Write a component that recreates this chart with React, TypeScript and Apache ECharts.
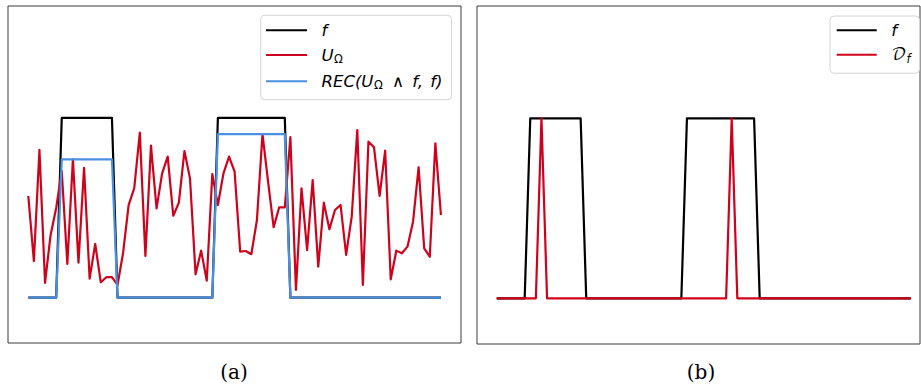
import React, { useEffect, useRef } from 'react';
import * as echarts from 'echarts';

// Panel (a): noisy signal U_Omega, indicator f, reconstruction REC(U_Omega ∧ f, f)
const U_OMEGA = [
  0.566, 0.204, 0.822, 0.083, 0.349, 0.499, 0.705, 0.188, 0.77, 0.195,
  0.723, 0.106, 0.299, 0.086, 0.114, 0.114, 0.071, 0.249, 0.516, 0.609,
  0.918, 0.232, 0.846, 0.497, 0.692, 0.785, 0.456, 0.529, 0.816, 0.664,
  0.13, 0.262, 0.095, 0.688, 0.516, 0.692, 0.785, 0.701, 0.256, 0.26,
  0.242, 0.432, 0.91, 0.646, 0.392, 0.503, 0.503, 0.893, 0.043, 0.609,
  0.265, 0.655, 0.173, 0.529, 0.381, 0.488, 0.516, 0.238, 0.451, 0.933,
  0.071, 0.868, 0.837, 0.566, 0.818, 0.102, 0.262, 0.247, 0.284, 0.423,
  0.726, 0.275, 0.228, 0.859, 0.46,
];

const F_VALUES = [
  0, 0, 0, 0, 0, 0, 1, 1, 1, 1,
  1, 1, 1, 1, 1, 1, 0, 0, 0, 0,
  0, 0, 0, 0, 0, 0, 0, 0, 0, 0,
  0, 0, 0, 0, 1, 1, 1, 1, 1, 1,
  1, 1, 1, 1, 1, 1, 1, 0, 0, 0,
  0, 0, 0, 0, 0, 0, 0, 0, 0, 0,
  0, 0, 0, 0, 0, 0, 0, 0, 0, 0,
  0, 0, 0, 0, 0,
];

const REC_VALUES = [
  0, 0, 0, 0, 0, 0, 0.77, 0.77, 0.77, 0.77,
  0.77, 0.77, 0.77, 0.77, 0.77, 0.77, 0, 0, 0, 0,
  0, 0, 0, 0, 0, 0, 0, 0, 0, 0,
  0, 0, 0, 0, 0.91, 0.91, 0.91, 0.91, 0.91, 0.91,
  0.91, 0.91, 0.91, 0.91, 0.91, 0.91, 0.91, 0, 0, 0,
  0, 0, 0, 0, 0, 0, 0, 0, 0, 0,
  0, 0, 0, 0, 0, 0, 0, 0, 0, 0,
  0, 0, 0, 0, 0,
];

// Panel (b): D_f
const D_F_VALUES = [
  0, 0, 0, 0, 0, 0, 0, 0, 1, 0,
  0, 0, 0, 0, 0, 0, 0, 0, 0, 0,
  0, 0, 0, 0, 0, 0, 0, 0, 0, 0,
  0, 0, 0, 0, 0, 0, 0, 0, 0, 0,
  0, 0, 1, 0, 0, 0, 0, 0, 0, 0,
  0, 0, 0, 0, 0, 0, 0, 0, 0, 0,
  0, 0, 0, 0, 0, 0, 0, 0, 0, 0,
  0, 0, 0, 0, 0,
];

const CAPTIONS = ['(a)', '(b)'];

const BLACK = '#000000';
const RED = '#d0021b';
const BLUE = '#4a90e2';

const toPoints = (arr: number[]) => arr.map((v, i) => [i, v]);

const FONT = 'DejaVu Sans';

const rich = {
  i: { fontFamily: FONT, fontSize: 16.5, fontStyle: 'italic', lineHeight: 20, color: '#000' },
  r: { fontFamily: FONT, fontSize: 16.5, fontStyle: 'normal', lineHeight: 20, color: '#000', padding: [0, 3, 0, 3] },
  p: { fontFamily: FONT, fontSize: 16.5, fontStyle: 'italic', lineHeight: 20, color: '#000', padding: [0, 2, 0, 0] },
  s: { fontFamily: FONT, fontSize: 11.5, fontStyle: 'normal', lineHeight: 10, verticalAlign: 'bottom', color: '#000', padding: [0, 1, 0, 0.5] },
  si: { fontFamily: FONT, fontSize: 11.5, fontStyle: 'italic', lineHeight: 10, verticalAlign: 'bottom', color: '#000' },
  c: { fontFamily: "'DejaVu Math TeX Gyre', 'DejaVu Sans', 'DejaVu Serif'", fontSize: 16.5, fontStyle: 'normal', lineHeight: 20, color: '#000' },
};

const LABELS: Record<string, string> = {
  fa: '{i|f}',
  U: '{i|U}{s|Ω}',
  REC: '{i|REC(U}{s|Ω}{r| ∧ }{p|f,}{i| f)}',
  fb: '{i|f}',
  Df: '{c|𝒟}{si|f}',
};

export default function App() {
  const ref = useRef<HTMLDivElement>(null);

  useEffect(() => {
    const chart = echarts.init(ref.current!, null, { renderer: 'svg' });

    const line = (name: string, data: number[], color: string, idx: number) => ({
      name,
      type: 'line',
      xAxisIndex: idx,
      yAxisIndex: idx,
      data: toPoints(data),
      symbol: 'none',
      showSymbol: false,
      silent: true,
      lineStyle: { color, width: 2.2, join: 'round' },
      itemStyle: { color },
      emphasis: { disabled: true },
    });

    const legendCommon = {
      orient: 'vertical',
      icon: 'rect',
      itemHeight: 2,
      backgroundColor: '#ffffff',
      borderColor: '#d4d4d4',
      borderWidth: 1,
      borderRadius: 4,
      selectedMode: false,
      formatter: (name: string) => LABELS[name] || name,
      textStyle: {
        fontFamily: FONT,
        fontSize: 16.5,
        color: '#000',
        padding: [0, 0, 0, 9.5],
        rich,
      },
    };

    chart.setOption({
      animation: false,
      backgroundColor: '#ffffff',
      grid: [
        { left: 8, top: 6, width: 453, height: 337, show: true, borderColor: '#3a3a3a', borderWidth: 1, backgroundColor: 'transparent' },
        { left: 477, top: 6, width: 443, height: 338, show: true, borderColor: '#3a3a3a', borderWidth: 1, backgroundColor: 'transparent' },
      ],
      xAxis: [
        { type: 'value', gridIndex: 0, min: -3.64, max: 77.6, show: false },
        { type: 'value', gridIndex: 1, min: -3.52, max: 75.65, show: false },
      ],
      yAxis: [
        { type: 'value', gridIndex: 0, min: -0.252, max: 1.623, show: false },
        { type: 'value', gridIndex: 1, min: -0.254, max: 1.624, show: false },
      ],
      legend: [
        {
          ...legendCommon,
          data: ['fa', 'U', 'REC'],
          left: 260.7,
          top: 15.3,
          itemWidth: 41,
          itemGap: 7.8,
          padding: [6.4, 9, 8.4, 5.3],
        },
        {
          ...legendCommon,
          data: ['fb', 'Df'],
          left: 830,
          top: 16,
          itemWidth: 40,
          itemGap: 7.6,
          padding: [5.7, 9, 8.4, 6.7],
        },
      ],
      graphic: [
        {
          type: 'text',
          x: 234,
          y: 371.5,
          silent: true,
          style: { text: CAPTIONS[0], fontFamily: 'DejaVu Serif', fontSize: 20, fill: '#000', align: 'center', verticalAlign: 'middle', textAlign: 'center', textVerticalAlign: 'middle' },
        },
        {
          type: 'text',
          x: 701,
          y: 371.5,
          silent: true,
          style: { text: CAPTIONS[1], fontFamily: 'DejaVu Serif', fontSize: 20, fill: '#000', align: 'center', verticalAlign: 'middle', textAlign: 'center', textVerticalAlign: 'middle' },
        },
      ],
      series: [
        line('fa', F_VALUES, BLACK, 0),
        line('U', U_OMEGA, RED, 0),
        line('REC', REC_VALUES, BLUE, 0),
        line('fb', F_VALUES, BLACK, 1),
        line('Df', D_F_VALUES, RED, 1),
      ],
    });

    return () => chart.dispose();
  }, []);

  return (
    <div
      ref={ref}
      style={{ position: 'fixed', left: 0, top: 0, width: 921, height: 386, background: '#fff' }}
    />
  );
}
